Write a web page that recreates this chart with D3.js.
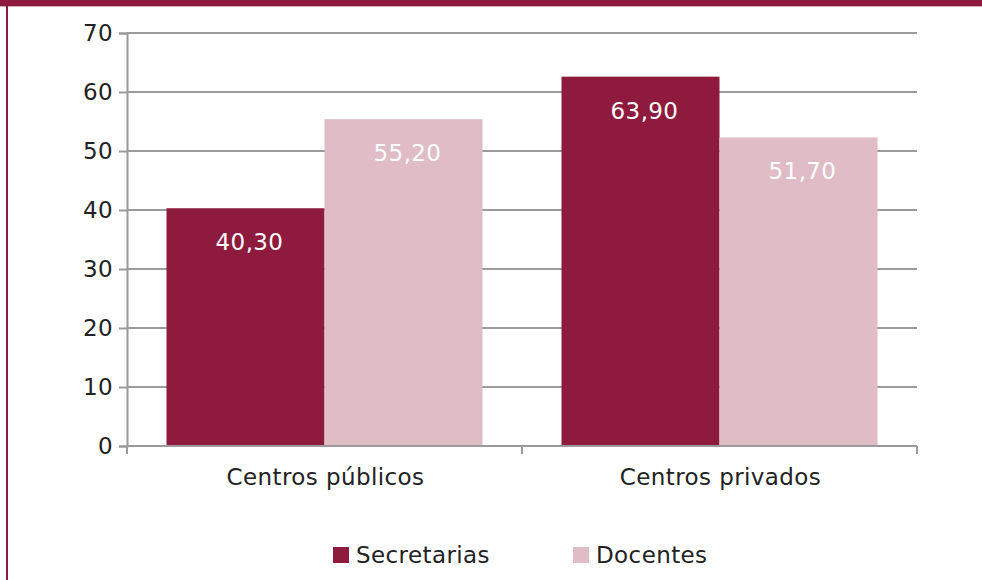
<!DOCTYPE html>
<html>
<head>
<meta charset="utf-8">
<script src="https://cdn.jsdelivr.net/npm/d3@7"></script>
<style>
  body { margin: 0; background: #fff; }
  svg text { font-family: "DejaVu Sans", Verdana, sans-serif; letter-spacing: 0.4px; }
</style>
</head>
<body>
<div id="chart"></div>
<script>
// data
const categories   = ['Centros públicos', 'Centros privados'];
const seriesNames  = ['Secretarias', 'Docentes'];
const secretarias  = [40.3, 62.6];   // bar heights as drawn
const docentes     = [55.4, 52.3];
const labelsSec    = ['40,30', '63,90']; // printed labels
const labelsDoc    = ['55,20', '51,70'];
const yTicks       = [0, 10, 20, 30, 40, 50, 60, 70];

const width  = 982;
const height = 580;
const maroon = '#8e1a3d';
const pink   = '#dfbcc6';
const grid   = '#9a9a9c';
const fs     = '23px';

const margin = { left: 127, right: 65, top: 33, bottom: 134 };

const svg = d3.select('#chart').append('svg')
  .attr('width', width)
  .attr('height', height);

// frame: top band + left rule
svg.append('rect').attr('x', 0).attr('y', 0).attr('width', width).attr('height', 6).attr('fill', maroon);
svg.append('rect').attr('x', 0).attr('y', 6).attr('width', width).attr('height', 1).attr('fill', '#d9a9b6');
svg.append('rect').attr('x', 6).attr('y', 6).attr('width', 2).attr('height', height).attr('fill', maroon);

const x = d3.scaleBand()
  .domain(categories)
  .range([margin.left, width - margin.right])
  .paddingInner(0)
  .paddingOuter(0);

const inner = d3.scaleBand()
  .domain(seriesNames)
  .range([0, x.bandwidth()])
  .paddingOuter(0.25)
  .paddingInner(0);

const y = d3.scaleLinear()
  .domain([0, 70])
  .range([height - margin.bottom, margin.top]);

// gridlines
svg.append('g')
  .selectAll('line')
  .data(yTicks)
  .join('line')
  .attr('x1', margin.left)
  .attr('x2', width - margin.right)
  .attr('y1', d => y(d))
  .attr('y2', d => y(d))
  .attr('stroke', grid)
  .attr('stroke-width', 2);

// bars
const rows = categories.map((c, i) => ({
  cat: c,
  vals: [
    { s: seriesNames[0], v: secretarias[i], label: labelsSec[i], color: maroon },
    { s: seriesNames[1], v: docentes[i],    label: labelsDoc[i], color: pink }
  ]
}));

const groups = svg.append('g')
  .selectAll('g')
  .data(rows)
  .join('g')
  .attr('transform', d => `translate(${x(d.cat)},0)`);

groups.selectAll('rect')
  .data(d => d.vals)
  .join('rect')
  .attr('x', d => inner(d.s))
  .attr('y', d => y(d.v))
  .attr('width', inner.bandwidth())
  .attr('height', d => y(0) - y(d.v))
  .attr('fill', d => d.color);

groups.selectAll('text')
  .data(d => d.vals)
  .join('text')
  .attr('x', d => inner(d.s) + inner.bandwidth() / 2 + 4)
  .attr('y', d => y(d.v) + 42)
  .attr('text-anchor', 'middle')
  .attr('fill', '#fff')
  .style('font-size', fs)
  .text(d => d.label);

// y axis
const yAxis = svg.append('g')
  .attr('transform', `translate(${margin.left},0)`)
  .call(d3.axisLeft(y).tickValues(yTicks).tickSize(8).tickPadding(6));
yAxis.select('.domain').attr('stroke', grid).attr('stroke-width', 2);
yAxis.selectAll('.tick line').attr('stroke', grid).attr('stroke-width', 2);
yAxis.selectAll('.tick text')
  .attr('fill', '#222')
  .style('font-size', fs)
  .style('font-family', '"DejaVu Sans", Verdana, sans-serif');

// x axis with ticks at the band edges
const xAxisG = svg.append('g')
  .attr('transform', `translate(0,${y(0)})`);
xAxisG.append('line')
  .attr('x1', margin.left).attr('x2', width - margin.right)
  .attr('stroke', grid).attr('stroke-width', 2);
const edges = categories.map(c => x(c)).concat([x(categories[categories.length - 1]) + x.bandwidth()]);
xAxisG.selectAll('.edge')
  .data(edges)
  .join('line')
  .attr('class', 'edge')
  .attr('x1', d => d).attr('x2', d => d)
  .attr('y1', 0).attr('y2', 8)
  .attr('stroke', grid).attr('stroke-width', 2);
xAxisG.selectAll('.cat')
  .data(categories)
  .join('text')
  .attr('class', 'cat')
  .attr('x', d => x(d) + x.bandwidth() / 2 + 1)
  .attr('y', 39)
  .attr('text-anchor', 'middle')
  .attr('fill', '#222')
  .style('font-size', fs)
  .text(d => d);

// legend
const legendX = [333, 573];
const legend = svg.append('g')
  .selectAll('g')
  .data(seriesNames)
  .join('g')
  .attr('transform', (d, i) => `translate(${legendX[i]},547)`);
legend.append('rect')
  .attr('width', 16).attr('height', 16)
  .attr('fill', (d, i) => i === 0 ? maroon : pink);
legend.append('text')
  .attr('x', 23).attr('y', 16)
  .attr('fill', '#222')
  .style('font-size', fs)
  .text(d => d);
</script>
</body>
</html>
